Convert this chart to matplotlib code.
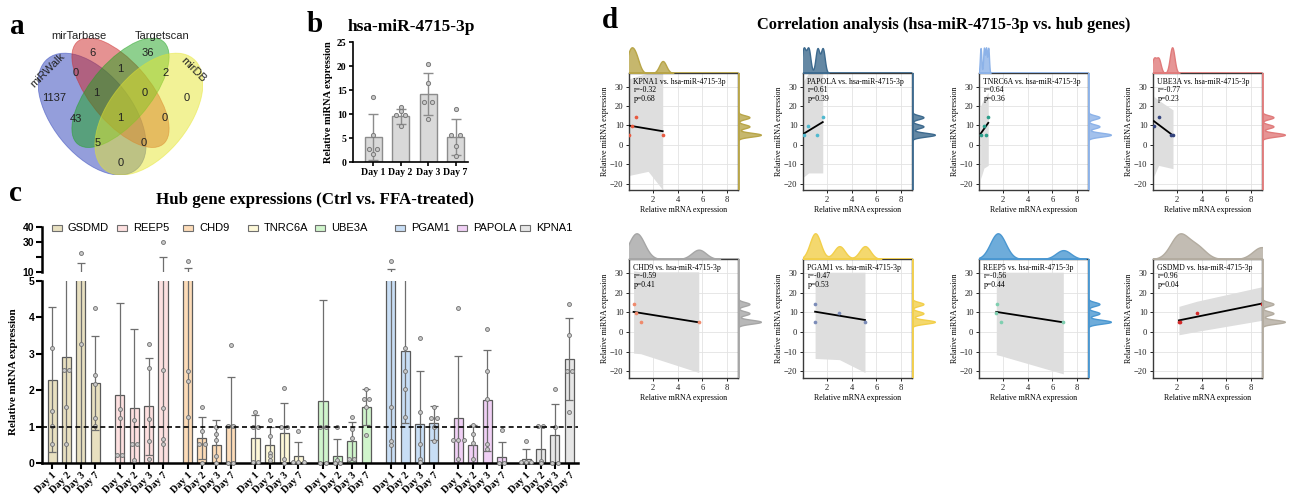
import numpy as np
import matplotlib.pyplot as plt
import seaborn as sns
from matplotlib.patches import Ellipse, Rectangle

SERIF = ["Liberation Serif", "DejaVu Serif"]
SANS = ["Liberation Sans", "DejaVu Sans"]

W, H = 1289, 495

# ---------------- panel a : Venn diagram ----------------
venn_names = ["miRWalk", "mirTarbase", "Targetscan", "mirDB"]
venn_colors = ["#2a3fb8", "#cd2626", "#1ea31e", "#e6e62f"]
venn_counts = [1137, 6, 36, 0, 0, 1, 2, 43, 1, 0, 0, 1, 5, 0, 0]

# ---------------- panel b : hsa-miR-4715-3p ----------------
days = ["Day 1", "Day 2", "Day 3", "Day 7"]
mir_mean = [5.2, 9.5, 14.1, 5.2]
mir_sd = [4.8, 1.6, 4.4, 3.7]
mir_points = [[13.5, 5.6, 2.8, 2.8, 1.6],
              [11.4, 10.6, 9.7, 9.7, 7.4],
              [20.5, 16.5, 12.6, 12.6, 8.9],
              [11.1, 5.6, 5.6, 3.3, 1.25]]

# ---------------- panel c : hub genes ----------------
genes = ["GSDMD", "REEP5", "CHD9", "TNRC6A", "UBE3A", "PGAM1", "PAPOLA", "KPNA1"]
gene_colors = ["#e8e0c0", "#fde0e0", "#fddcb8", "#fdf8d8",
               "#d0f5cc", "#c8def5", "#f0d0f5", "#e6e6e6"]
gene_mean = [[2.29, 2.9, 7.5, 2.2],
             [1.86, 1.51, 1.56, 7.1],
             [5.5, 0.69, 0.5, 1.04],
             [0.68, 0.5, 0.83, 0.2],
             [1.7, 0.2, 0.6, 1.54],
             [5.6, 3.09, 1.08, 1.1],
             [1.24, 0.5, 1.72, 0.16],
             [0.11, 0.39, 0.78, 2.86]]
gene_sd = [[1.99, 3.0, 8.6, 1.3],
           [2.54, 2.16, 1.33, 12.8],
           [7.2, 0.57, 0.67, 1.33],
           [0.65, 0.5, 0.82, 0.38],
           [2.78, 0.46, 0.53, 0.5],
           [6.3, 2.0, 1.44, 0.46],
           [1.7, 0.54, 1.38, 0.42],
           [0.28, 0.64, 0.85, 1.13]]
gene_points = [
    [[3.15, 1.42, 1.03, 0.52], [2.55, 2.55, 1.53, 0.52], [22.4, 3.28], [4.27, 2.43, 2.16, 1.24, 1.01]],
    [[1.47, 1.24, 0.23, 0.23], [1.19, 0.52, 0.52, 0.09], [3.28, 2.6, 1.22, 0.61, 0.11], [30.3, 2.55, 1.51, 0.66, 0.52]],
    [[17.4, 2.52, 2.25, 1.26], [1.53, 0.89, 0.52, 0.52, 0.0], [1.0, 0.81, 0.64, 0.2, 0.0], [3.24, 1.03, 1.03, 0.0, 0.0]],
    [[1.4, 1.0, 1.0, 0.03, 0.03], [1.19, 0.73, 0.27, 0.2, 0.09], [2.05, 1.0, 1.0, 0.11, 0.0], [0.87, 0.02, 0.02, 0.02]],
    [[1.0, 1.0, 0.0, 0.0], [1.0, 0.09, 0.0, 0.0], [1.27, 0.94, 0.69, 0.1, 0.1], [2.04, 1.75, 1.75, 1.53, 0.77]],
    [[17.4, 1.53, 0.6, 0.5], [3.17, 2.52, 2.04, 1.26], [3.44, 1.4, 0.52, 0.12, 0.02], [1.53, 1.24, 1.24, 1.0, 0.61]],
    [[4.27, 0.63, 0.63, 0.63, 0.11], [1.04, 0.8, 0.55, 0.11], [3.67, 2.54, 1.77, 0.52, 0.39], [0.92, 0.0, 0.0]],
    [[0.6, 0.02, 0.02, 0.02], [1.03, 1.03, 0.06, 0.0], [2.02, 1.0, 0.0, 0.0], [4.36, 3.53, 2.54, 2.54, 1.4]],
]

# ---------------- panel d : correlations ----------------
corr_genes = ["KPNA1", "PAPOLA", "TNRC6A", "UBE3A", "CHD9", "PGAM1", "REEP5", "GSDMD"]
corr_r = ["-0.32", "0.61", "0.64", "-0.77", "-0.59", "-0.47", "-0.56", "0.96"]
corr_p = ["0.68", "0.39", "0.36", "0.23", "0.41", "0.53", "0.44", "0.04"]
corr_mir = [5.2, 9.5, 14.2, 5.2]
corr_x = [[0.05, 0.3, 0.65, 2.78],
          [1.22, 0.49, 1.65, 0.1],
          [0.62, 0.45, 0.8, 0.18],
          [1.67, 0.12, 0.5, 1.53],
          [5.7, 0.6, 0.42, 1.0],
          [5.07, 3.0, 1.03, 1.05],
          [1.8, 1.45, 1.5, 6.88],
          [2.2, 3.6, 8.85, 2.15]]
line_y = [(9.9, 7.0), (5.7, 11.7), (5.7, 11.3), (12.2, 4.8),
          (10.2, 4.9), (10.3, 6.1), (10.2, 4.9), (5.9, 14.4)]
band_mid = [1.6, 0.5, 0.45, 0.5, 1.0, 3.0, 1.8, 3.6]
band_lo = [(-15.8, -13.7, -23.2), (-16.6, -14.5, -14.5), (-17.5, -12.0, -10.6), (-16.3, -10.6, -12.3),
           (-10.7, -11.0, -20.5), (-13.4, -14.0, -20.5), (-11.5, -12.0, -21.2), (-1.4, 0.3, 5.9)]
band_hi = [(34, 37, 37), (33, 37, 37), (20, 24, 27), (25, 23, 18),
           (31, 30.5, 30.5), (30.3, 30.3, 30.3), (30.3, 30.3, 30.3), (13, 15.6, 22.9)]
kde_colors = ["#b8a548", "#3d6a8e", "#8cb2e8", "#e07b7b", "#a6a6a6", "#f2cf4a", "#4a97d1", "#b3aca0"]
dot_colors = ["#e8593f", "#4fb9cf", "#2b9e8a", "#34447e", "#ef8a6c", "#7b8cb8", "#7fcfb0", "#d42a2a"]


def box(x0, y0, x1, y1):
    return [x0 / W, 1 - y1 / H, (x1 - x0) / W, (y1 - y0) / H]


def ftext(x, y, s, **kw):
    fig.text(x / W, 1 - y / H, s, **kw)


def spread(vals, step):
    offs = []
    for i, v in enumerate(vals):
        same = [j for j, w in enumerate(vals) if w == v]
        offs.append((same.index(i) - (len(same) - 1) / 2) * step)
    return np.array(offs)


fig = plt.figure(figsize=(W / 100, H / 100), dpi=100)

# ======== a ========
ftext(17, 27, "a", fontsize=21, fontweight="bold", family=SERIF, va="center", ha="center")
ax_a = fig.add_axes(box(38, 38, 203, 175))
ax_a.set_xlim(0.065, 0.935)
ax_a.set_ylim(0.185, 0.826)
ax_a.axis("off")
ell = [(0.35, 0.47, 0.35, 0.20, 135), (0.5, 0.57, 0.33, 0.15, 135),
       (0.5, 0.57, 0.33, 0.15, 45), (0.65, 0.47, 0.35, 0.20, 45)]
for (cx, cy, a, b, ang), col in zip(ell, venn_colors):
    ax_a.add_patch(Ellipse((cx, cy), 2 * a, 2 * b, angle=ang, facecolor=col, alpha=0.5,
                           edgecolor=col, lw=0.6))
venn_pos = [(0.15, 0.545), (0.355, 0.756), (0.645, 0.756), (0.85, 0.545),
            (0.265, 0.662), (0.50, 0.681), (0.735, 0.662), (0.265, 0.447),
            (0.37, 0.569), (0.63, 0.569), (0.735, 0.452), (0.50, 0.452),
            (0.38, 0.335), (0.62, 0.335), (0.50, 0.241)]
for (u, v), n in zip(venn_pos, venn_counts):
    ax_a.text(u, v, str(n), ha="center", va="center", fontsize=8, family=SANS, color="#222222")
name_pos = [(0.115, 0.676, 45), (0.28, 0.835, 0), (0.72, 0.835, 0), (0.885, 0.676, -45)]
for (u, v, rot), nm in zip(name_pos, venn_names):
    ax_a.text(u, v, nm, ha="center", va="center", fontsize=8, family=SANS, rotation=rot, color="#222222")

# ======== b ========
ftext(315, 25, "b", fontsize=21, fontweight="bold", family=SERIF, va="center", ha="center")
ftext(411, 27, "hsa-miR-4715-3p", fontsize=12.5, fontweight="bold", family=SERIF, va="center", ha="center")
ax_b = fig.add_axes(box(353, 42, 468, 162))
xb = np.arange(len(days))
ax_b.bar(xb, mir_mean, width=0.62, color="#d9d9d9", edgecolor="#8c8c8c", lw=1.0, zorder=1)
ax_b.errorbar(xb, mir_mean, yerr=mir_sd, fmt="none", ecolor="#8c8c8c", elinewidth=1.0,
              capsize=3.5, capthick=1.0, zorder=2)
for i, pts in enumerate(mir_points):
    ax_b.scatter(xb[i] + spread(pts, 0.3), pts, s=9, facecolor="#c8c8c8", edgecolor="#7a7a7a",
                 lw=0.7, zorder=3)
ax_b.set_xlim(-0.73, 3.45)
ax_b.set_ylim(0, 25)
ax_b.set_yticks([0, 5, 10, 15, 20, 25])
ax_b.set_xticks(xb)
ax_b.set_xticklabels(days)
for s in ["top", "right"]:
    ax_b.spines[s].set_visible(False)
for s in ["left", "bottom"]:
    ax_b.spines[s].set_linewidth(1.2)
ax_b.tick_params(width=1.2, length=3, labelsize=7, pad=1.5)
for lab in ax_b.get_xticklabels() + ax_b.get_yticklabels():
    lab.set_family(SERIF)
    lab.set_fontweight("bold")
ax_b.set_ylabel("Relative miRNA expression", fontsize=7.5, fontweight="bold", family=SERIF, labelpad=3)

# ======== c ========
ftext(15, 193, "c", fontsize=21, fontweight="bold", family=SERIF, va="center", ha="center")
ftext(315, 200, "Hub gene expressions (Ctrl vs. FFA-treated)", fontsize=12.2, fontweight="bold",
      family=SERIF, va="center", ha="center")
ax_hi = fig.add_axes(box(42, 227, 578, 272))
ax_lo = fig.add_axes(box(42, 281, 578, 463))
pitch = 4.7
for g in range(len(genes)):
    xs = g * pitch + np.arange(4)
    for ax in (ax_hi, ax_lo):
        ax.bar(xs, gene_mean[g], width=0.63, color=gene_colors[g], edgecolor="#5a5a5a", lw=0.9, zorder=1)
        ax.errorbar(xs, gene_mean[g], yerr=gene_sd[g], fmt="none", ecolor="#6e6e6e", elinewidth=0.9,
                    capsize=3, capthick=0.9, zorder=2)
    for d in range(4):
        pts = np.array(gene_points[g][d])
        px = xs[d] + spread(list(pts), 0.36)
        lo = pts <= 5.1
        hi = pts >= 10
        ax_lo.scatter(px[lo], pts[lo], s=8, facecolor="#c8c8c8", edgecolor="#6e6e6e", lw=0.6,
                      zorder=3, clip_on=False)
        ax_hi.scatter(px[hi], pts[hi], s=8, facecolor="#c8c8c8", edgecolor="#6e6e6e", lw=0.6,
                      zorder=3, clip_on=False)
    # legend entry
    lx = [52, 117, 183, 248, 315, 395, 457, 520][g]
    fig.patches.append(Rectangle((lx / W, 1 - 231 / H), 10 / W, 6 / H, transform=fig.transFigure,
                                 facecolor=gene_colors[g], edgecolor="#6e6e6e", lw=0.8))
    ftext(lx + 16, 228, genes[g], fontsize=8, family=SANS, va="center", ha="left")

xc = [g * pitch + d for g in range(len(genes)) for d in range(4)]
for ax in (ax_hi, ax_lo):
    ax.set_xlim(-0.7, 36.5)
    ax.spines["top"].set_visible(False)
    ax.spines["right"].set_visible(False)
    ax.spines["left"].set_linewidth(1.8)
    ax.spines["bottom"].set_linewidth(1.8)
    ax.tick_params(width=1.5, length=4, labelsize=7.5, pad=1.5)
ax_hi.set_ylim(10, 40)
ax_hi.spines["bottom"].set_visible(False)
ax_hi.set_xticks([])
ax_hi.set_yticks([10, 20, 30, 40])
ax_hi.set_yticklabels(["10", "", "30", "40"])
ax_lo.set_ylim(0, 5)
ax_lo.set_yticks([0, 1, 2, 3, 4, 5])
ax_lo.axhline(1, color="black", lw=1.2, ls=(0, (3, 2)), zorder=4)
ax_lo.set_xticks(xc)
ax_lo.set_xticklabels(days * len(genes), rotation=45, ha="right", rotation_mode="anchor")
for lab in ax_lo.get_xticklabels():
    lab.set_family(SERIF)
    lab.set_fontweight("bold")
for lab in ax_lo.get_yticklabels() + ax_hi.get_yticklabels():
    lab.set_family(SANS)
    lab.set_fontweight("bold")
ax_lo.set_ylabel("Relative mRNA expression", fontsize=8, fontweight="bold", family=SERIF, labelpad=8)

# ======== d ========
ftext(610, 21, "d", fontsize=21, fontweight="bold", family=SERIF, va="center", ha="center")
ftext(944, 25, "Correlation analysis (hsa-miR-4715-3p vs. hub genes)", fontsize=11.8,
      fontweight="bold", family=SERIF, va="center", ha="center")
lefts = [629, 803, 979, 1153]
rows = [(73, 190), (259, 378)]
xlim = (0.05, 8.88)
ylim = (-23.3, 37)
for k, g in enumerate(corr_genes):
    r, c = divmod(k, 4)
    x0, x1 = lefts[c], lefts[c] + 109
    y0, y1 = rows[r]
    ax = fig.add_axes(box(x0, y0, x1, y1))
    ax_t = fig.add_axes(box(x0, y0 - 27, x1, y0))
    ax_r = fig.add_axes(box(x1, y0, x1 + 24, y1))

    xs = corr_x[k]
    xmin, xmax = min(xs), max(xs)
    ax.fill_between([xmin, band_mid[k], xmax], band_lo[k], band_hi[k], color="#dedede", lw=0, zorder=1)
    ax.plot([xmin, xmax], line_y[k], color="black", lw=1.3, zorder=3)
    ax.scatter(xs, corr_mir, s=7, color=dot_colors[k], zorder=4, lw=0)
    ax.set_xlim(*xlim)
    ax.set_ylim(*ylim)
    ax.set_xticks([2, 4, 6, 8])
    ax.set_yticks([-20, -10, 0, 10, 20, 30])
    ax.grid(color="#e3e3e3", lw=0.6, zorder=0)
    ax.set_axisbelow(True)
    for s in ax.spines.values():
        s.set_color("#3a3a3a")
        s.set_linewidth(1.0)
    ax.tick_params(length=2.5, width=0.7, labelsize=6.2, pad=1.5, colors="#222222")
    for lab in ax.get_xticklabels() + ax.get_yticklabels():
        lab.set_family(SERIF)
    ax.set_xlabel("Relative mRNA expression", fontsize=5.8, family=SERIF, labelpad=2)
    ax.set_ylabel("Relative miRNA expression", fontsize=5.8, family=SERIF, labelpad=1)
    ax.text(0.04, 0.96, f"{g} vs. hsa-miR-4715-3p\nr={corr_r[k]}\np={corr_p[k]}", transform=ax.transAxes,
            va="top", ha="left", fontsize=5.6, family=SERIF, linespacing=1.1, zorder=5)

    sns.kdeplot(x=xs, ax=ax_t, fill=True, color=kde_colors[k], alpha=0.8, bw_adjust=0.3, linewidth=1.0)
    ax_t.axhline(0, color=kde_colors[k], lw=2)
    ax_t.set_xlim(*xlim)
    ax_t.set_ylim(0, ax_t.get_ylim()[1])
    ax_t.axis("off")

    sns.kdeplot(y=corr_mir, ax=ax_r, fill=True, color=kde_colors[k], alpha=0.8, bw_adjust=0.3, linewidth=1.0)
    ax_r.axvline(0, color=kde_colors[k], lw=2)
    ax_r.set_ylim(*ylim)
    ax_r.set_xlim(0, ax_r.get_xlim()[1])
    ax_r.axis("off")

fig.savefig("out.png", dpi=100)
